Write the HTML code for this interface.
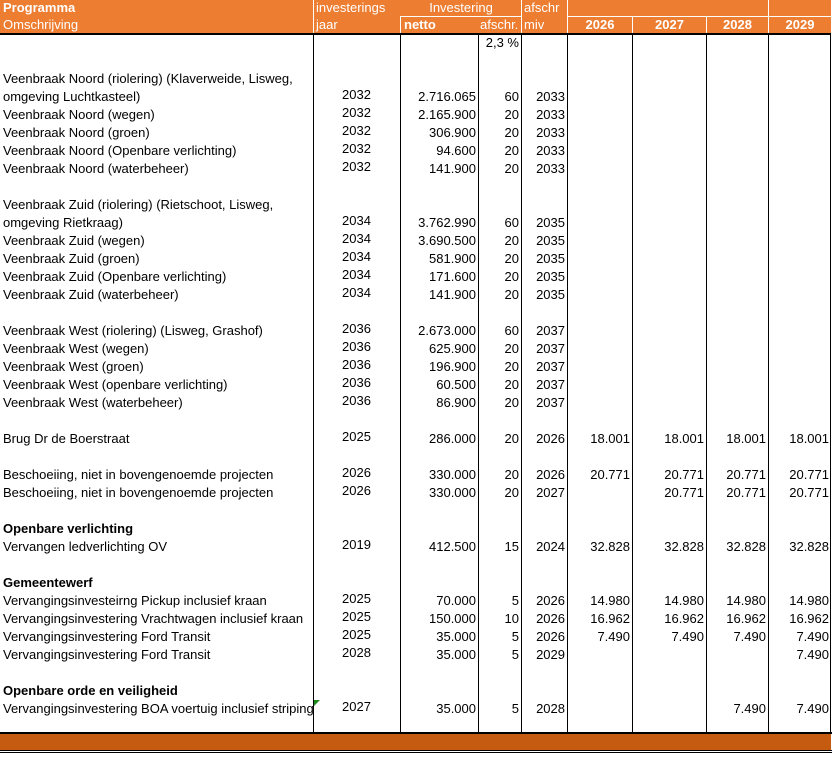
<!DOCTYPE html>
<html><head><meta charset="utf-8">
<style>
body{margin:0;background:#fff;width:833px;height:770px;overflow:hidden;position:relative;font-family:"Liberation Sans",Arial,sans-serif;font-size:13px;color:#000}
.h{position:absolute;background:#ED7D31;color:#fff;font-family:"Liberation Sans Narrow","Liberation Sans",sans-serif;font-size:13px;line-height:16px;white-space:nowrap}
.hb{font-weight:bold}
.vl{position:absolute;width:1px;background:#000;top:34px;height:700px}
.wl{position:absolute;background:#fff}
.c{position:absolute;height:18px;line-height:18px;white-space:nowrap}
.r{text-align:right}
.b{font-weight:bold}
</style></head><body>
<div class="h" style="left:0;top:0;width:831px;height:34px"></div>
<div class="wl" style="left:313px;top:0;width:1px;height:34px"></div>
<div class="wl" style="left:400px;top:16px;width:1px;height:18px"></div>
<div class="wl" style="left:521px;top:0;width:1px;height:34px"></div>
<div class="wl" style="left:567px;top:0;width:1px;height:34px"></div>
<div class="wl" style="left:632px;top:17px;width:1px;height:17px"></div>
<div class="wl" style="left:706px;top:17px;width:1px;height:17px"></div>
<div class="wl" style="left:768px;top:0;width:1px;height:34px"></div>
<div class="wl" style="left:401px;top:16px;width:120px;height:1px"></div>
<div class="wl" style="left:568px;top:16px;width:263px;height:1px"></div>
<div class="h hb" style="left:3px;top:0;background:none">Programma</div>
<div class="h" style="left:3px;top:17px;background:none">Omschrijving</div>
<div class="h" style="left:316px;top:0;background:none">investerings</div>
<div class="h" style="left:316px;top:17px;background:none">jaar</div>
<div class="h" style="left:401px;top:0;width:120px;text-align:center;background:none">Investering</div>
<div class="h hb" style="left:404px;top:17px;background:none">netto</div>
<div class="h" style="left:480px;top:17px;background:none">afschr.</div>
<div class="h" style="left:524px;top:0;background:none">afschr</div>
<div class="h" style="left:524px;top:17px;background:none">miv</div>
<div class="h hb" style="left:568px;top:17px;width:64px;text-align:center;background:none">2026</div>
<div class="h hb" style="left:633px;top:17px;width:73px;text-align:center;background:none">2027</div>
<div class="h hb" style="left:707px;top:17px;width:61px;text-align:center;background:none">2028</div>
<div class="h hb" style="left:769px;top:17px;width:62px;text-align:center;background:none">2029</div>
<div style="position:absolute;left:0;top:33px;width:831px;height:2px;background:#000"></div>
<div id="lines"></div>
<div id="rows"></div>
<div style="position:absolute;left:0;top:732px;width:832px;height:2px;background:#000"></div>
<div style="position:absolute;left:0;top:734px;width:831px;height:16px;background:#C55A11"></div>
<div style="position:absolute;left:0;top:750px;width:832px;height:1px;background:#000"></div>
<div style="position:absolute;left:0;top:752px;width:832px;height:1px;background:#000"></div>
<div style="position:absolute;left:314px;top:700px;width:0;height:0;border-top:6px solid #1a8a1a;border-right:6px solid transparent"></div>
<script>
const colX=[313,400,478,521,567,632,706,768,830];
const descs=["","","Veenbraak Noord (riolering) (Klaverweide, Lisweg,","omgeving Luchtkasteel)","Veenbraak Noord (wegen)","Veenbraak Noord (groen)","Veenbraak Noord (Openbare verlichting)","Veenbraak Noord (waterbeheer)","","Veenbraak Zuid (riolering) (Rietschoot, Lisweg,","omgeving Rietkraag)","Veenbraak Zuid (wegen)","Veenbraak Zuid (groen)","Veenbraak Zuid (Openbare verlichting)","Veenbraak Zuid (waterbeheer)","","Veenbraak West (riolering) (Lisweg, Grashof)","Veenbraak West (wegen)","Veenbraak West (groen)","Veenbraak West (openbare verlichting)","Veenbraak West (waterbeheer)","","Brug Dr de Boerstraat","","Beschoeiing, niet in bovengenoemde projecten","Beschoeiing, niet in bovengenoemde projecten","","Openbare verlichting","Vervangen ledverlichting OV","","Gemeentewerf","Vervangingsinvesteirng Pickup inclusief kraan","Vervangingsinvestering Vrachtwagen inclusief kraan","Vervangingsinvestering Ford Transit","Vervangingsinvestering Ford Transit","","Openbare orde en veiligheid","Vervangingsinvestering BOA voertuig inclusief striping"];
const boldRows=[27,30,36];
const jaar=["","","","2032","2032","2032","2032","2032","","","2034","2034","2034","2034","2034","","2036","2036","2036","2036","2036","","2025","","2026","2026","","","2019","","","2025","2025","2025","2028","","","2027"];
const netto=["","","","2.716.065","2.165.900","306.900","94.600","141.900","","","3.762.990","3.690.500","581.900","171.600","141.900","","2.673.000","625.900","196.900","60.500","86.900","","286.000","","330.000","330.000","","","412.500","","","70.000","150.000","35.000","35.000","","","35.000"];
const afschr=["2,3 %","","","60","20","20","20","20","","","60","20","20","20","20","","60","20","20","20","20","","20","","20","20","","","15","","","5","10","5","5","","","5"];
const miv=["","","","2033","2033","2033","2033","2033","","","2035","2035","2035","2035","2035","","2037","2037","2037","2037","2037","","2026","","2026","2027","","","2024","","","2026","2026","2026","2029","","","2028"];
const y2026={22:"18.001",24:"20.771",28:"32.828",31:"14.980",32:"16.962",33:"7.490"};
const y2027={22:"18.001",24:"20.771",25:"20.771",28:"32.828",31:"14.980",32:"16.962",33:"7.490"};
const y2028={22:"18.001",24:"20.771",25:"20.771",28:"32.828",31:"14.980",32:"16.962",33:"7.490",37:"7.490"};
const y2029={22:"18.001",24:"20.771",25:"20.771",28:"32.828",31:"14.980",32:"16.962",33:"7.490",34:"7.490",37:"7.490"};
const L=document.getElementById('lines');
colX.forEach(x=>{const d=document.createElement('div');d.className='vl';d.style.left=x+'px';L.appendChild(d);});
const R=document.getElementById('rows');
function cell(txt,x,w,y,cls,name){
 const d=document.createElement('div');
 d.className='c '+cls;d.style.left=x+'px';d.style.width=w+'px';d.style.top=y+'px';d.textContent=txt;
 
 
 R.appendChild(d);}
for(let k=0;k<descs.length;k++){
 const y=34+k*18;
 if(descs[k])cell(descs[k],3,310,y,boldRows.includes(k)?'b':'','row-description');
 if(jaar[k])cell(jaar[k],313,87,y-2,'','investeringsjaar');
 if(jaar[k])R.lastChild.style.textAlign='center';
 if(netto[k])cell(netto[k],400,76,y,'r','netto');
 if(afschr[k])cell(afschr[k],478,41,y,'r','afschrijving');
 if(miv[k])cell(miv[k],521,44,y,'r','afschr-miv');
 if(y2026[k])cell(y2026[k],567,63,y,'r','value-2026');
 if(y2027[k])cell(y2027[k],632,72,y,'r','value-2027');
 if(y2028[k])cell(y2028[k],706,60,y,'r','value-2028');
 if(y2029[k])cell(y2029[k],768,61,y,'r','value-2029');
}
</script>
</body></html>
